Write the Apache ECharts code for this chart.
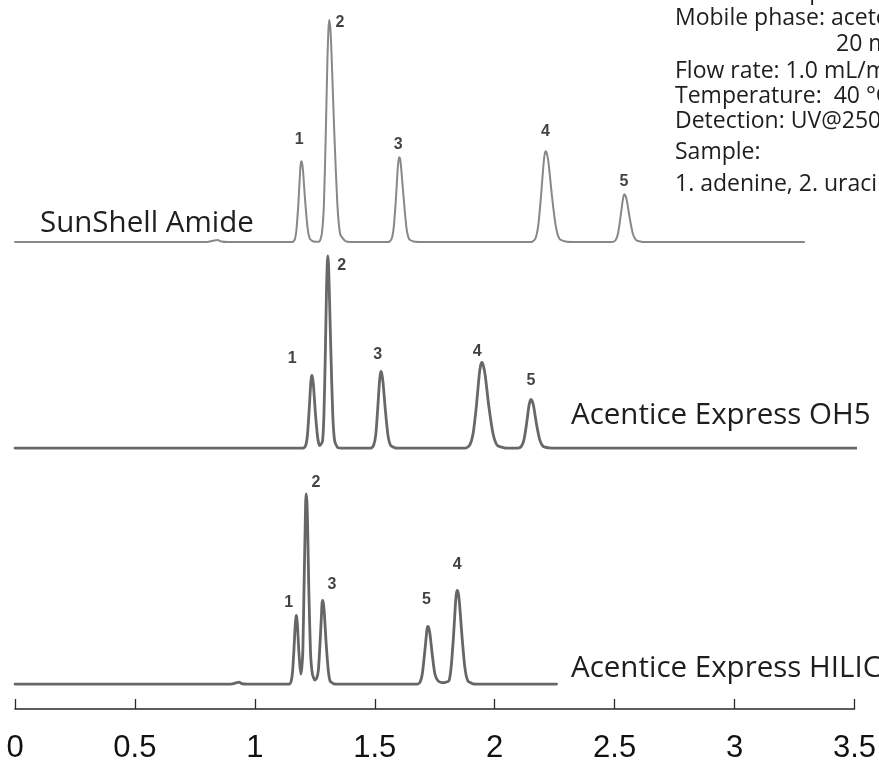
<!DOCTYPE html>
<html><head><meta charset="utf-8">
<script src="https://cdn.jsdelivr.net/npm/echarts@6.0.0/dist/echarts.min.js"></script>
<style>html,body{margin:0;padding:0;background:#fff}#c{width:879px;height:764px}</style>
</head><body><div id="c"></div>
<script>
// x-axis ticks (retention time, min)
const xTicks = [0, 0.5, 1, 1.5, 2, 2.5, 3, 3.5];

const traceNames = ['SunShell Amide', 'Acentice Express OH5', 'Acentice Express HILIC'];

// [time (min), detector signal]
const sunshellAmide = [
[0,0],[0.80,0],[0.83,1.5],[0.845,2],[0.86,0.5],[0.89,0],
[1.157,0],[1.167,2.8],[1.174,13.8],[1.182,40.5],[1.188,68],[1.191,77.8],[1.194,81],[1.198,77.8],[1.202,68],[1.210,40.5],[1.220,13.8],[1.230,2.8],[1.246,0.5],
[1.268,0.3],[1.279,7.8],[1.288,38],[1.296,111.5],[1.303,187],[1.307,214],[1.310,223],[1.315,214],[1.320,187],[1.331,111.5],[1.344,38],[1.356,7.8],[1.377,1],[1.40,0],
[1.558,0],[1.570,3],[1.579,14.5],[1.588,42.5],[1.595,71.4],[1.599,81.7],[1.602,85],[1.607,81.7],[1.611,71.4],[1.621,42.5],[1.632,14.5],[1.643,3],[1.662,0.5],[1.70,0],
[2.153,0],[2.169,3.2],[2.181,15.5],[2.193,45.5],[2.203,76.4],[2.208,87.5],[2.213,91],[2.219,87.5],[2.226,76.4],[2.239,45.5],[2.255,15.5],[2.270,3.2],[2.296,0.5],[2.33,0],
[2.490,0],[2.504,1.7],[2.514,8.2],[2.524,24],[2.533,40.3],[2.537,46],[2.541,48],[2.546,46],[2.552,40.3],[2.563,24],[2.576,8.2],[2.590,1.7],[2.612,0.3],[2.65,0],
[3.29,0]
];
const expressOH5 = [
[0,0],
[1.202,0],[1.212,2.6],[1.219,12.4],[1.226,36.5],[1.232,61.3],[1.235,70],[1.238,73],[1.241,70],[1.245,61.3],[1.252,36.5],[1.261,12.4],[1.266,5],
[1.271,2.5],[1.282,6.8],[1.288,32.8],[1.294,96.5],[1.299,162],[1.302,185.5],[1.304,193],[1.307,185.5],[1.310,162],[1.317,96.5],[1.325,32.8],[1.333,6.8],[1.346,0.5],[1.37,0],
[1.484,0],[1.495,2.7],[1.504,13],[1.512,38.5],[1.519,64.7],[1.523,74],[1.526,77],[1.530,74],[1.535,64.7],[1.544,38.5],[1.555,13],[1.566,2.7],[1.584,0.3],[1.62,0],
[1.879,0],[1.896,3],[1.910,14.6],[1.924,43],[1.935,72.2],[1.941,82.6],[1.946,86],[1.953,82.6],[1.961,72.2],[1.975,43],[1.993,14.6],[2.010,3],[2.040,0.3],[2.07,0],
[2.097,0],[2.111,1.7],[2.122,8.3],[2.133,24.5],[2.142,41.2],[2.147,47],[2.151,49],[2.157,47],[2.163,41.2],[2.174,24.5],[2.188,8.3],[2.202,1.7],[2.226,0.3],[2.26,0],
[3.54,0]
];
const expressHILIC = [
[0,0],[0.90,0],[0.925,1.5],[0.935,2],[0.945,0.5],[0.97,0],
[1.143,0],[1.151,2.4],[1.157,11.7],[1.163,34.5],[1.168,58],[1.171,66.3],[1.173,69],[1.175,66.3],[1.178,58],[1.183,34.5],[1.188,18],[1.192,10],
[1.196,17],[1.200,32.5],[1.205,95.5],[1.210,160],[1.212,183.5],[1.214,191],[1.217,183.5],[1.220,160],[1.225,95.5],[1.232,32.5],[1.240,10],[1.250,4],
[1.258,6],[1.265,14.3],[1.272,42],[1.278,70.6],[1.280,80.7],[1.283,84],[1.286,80.7],[1.290,70.6],[1.297,42],[1.306,14.3],[1.314,3],[1.33,0.3],[1.36,0],
[1.677,0],[1.689,2],[1.698,9.9],[1.707,29],[1.715,48.7],[1.718,55.7],[1.722,58],[1.726,55.7],[1.731,48.7],[1.740,29],[1.751,9.9],[1.765,3],[1.784,1.5],
[1.809,3.3],[1.818,16],[1.828,47],[1.836,79],[1.840,90.3],[1.844,94],[1.849,90.3],[1.854,79],[1.864,47],[1.876,16],[1.888,3.3],[1.91,0.3],[1.94,0],
[2.258,0]
];

// peak number annotations: [label, time, signal]
const sunshellLabels = [['1',1.185,103],['2',1.355,220],['3',1.598,98],['4',2.212,111],['5',2.539,61]];
const oh5Labels      = [['1',1.156,90],['2',1.362,183],['3',1.512,94],['4',1.927,97],['5',2.151,68]];
const hilicLabels    = [['1',1.141,82],['2',1.255,202],['3',1.321,100],['5',1.715,85],['4',1.844,120]];

const conditionLines = [
  'Acentice Express HILIC',
  'Mobile phase: acetonitrile/',
  '20 mM ammonium acetate',
  'Flow rate: 1.0 mL/min',
  'Temperature:  40 \u00B0C',
  'Detection: UV@250 nm',
  'Sample:',
  '1. adenine, 2. uracil, 3. adenosine'
];

// layout (vertical stacking of the traces, in signal units)
const baselines = [469, 262, 25];
const lineColors = ['#888888', '#686868', '#666666'];
const lineWidths = [2, 2.8, 2.8];

const traces = [sunshellAmide, expressOH5, expressHILIC];
const labelSets = [sunshellLabels, oh5Labels, hilicLabels];

const series = [];
traces.forEach((tr, i) => {
  series.push({
    name: traceNames[i], type: 'line', showSymbol: false, clip: false, silent: true,
    smooth: 0.2,
    data: tr.map(p => [p[0], p[1] + baselines[i]]),
    lineStyle: { color: lineColors[i], width: lineWidths[i], join: 'round', cap: 'round' },
    itemStyle: { color: lineColors[i] }
  });
  series.push({
    type: 'scatter', symbolSize: 0, clip: false, silent: true,
    data: labelSets[i].map(l => ({ name: l[0], value: [l[1], l[2] + baselines[i]] })),
    label: { show: true, position: 'inside', formatter: '{b}', color: '#111',
             fontFamily: 'Liberation Sans', fontWeight: 'bold', fontSize: 16 }
  });
});

const textFont = '"Open Sans", "DejaVu Sans", sans-serif';
const graphic = [
  { type: 'text', left: 40, top: 209, style: { text: traceNames[0], font: '29.5px ' + textFont, fill: '#1e1e1e' } },
  { type: 'text', left: 571, top: 401, style: { text: traceNames[1], font: '29.5px ' + textFont, fill: '#1e1e1e' } },
  { type: 'text', left: 571, top: 654, style: { text: traceNames[2], font: '29.5px ' + textFont, fill: '#1e1e1e' } }
];
const condTops = [-19, 7, 33, 60, 85, 110, 141, 173];
conditionLines.forEach((t, k) => {
  graphic.push({ type: 'text', x: (k === 2 ? 836 : (k === 0 ? 688 : 675)), y: condTops[k],
    style: { text: t, font: '23px ' + textFont, fill: '#1e1e1e' } });
});

const chart = echarts.init(document.getElementById('c'), null, { renderer: 'canvas' });
chart.setOption({
  animation: false,
  backgroundColor: '#ffffff',
  grid: { left: 15, right: 21, top: 0, bottom: 52 },
  xAxis: {
    type: 'value', min: xTicks[0], max: xTicks[xTicks.length - 1], interval: xTicks[1] - xTicks[0],
    axisLine: { show: true, lineStyle: { color: '#2a2a2a', width: 1.6 } },
    axisTick: { show: true, inside: true, length: 10, lineStyle: { color: '#2a2a2a', width: 1.3 } },
    axisLabel: { fontFamily: '"Liberation Sans Narrow", "Liberation Sans", sans-serif', fontSize: 31, color: '#111', margin: 24 },
    splitLine: { show: false }
  },
  yAxis: { type: 'value', min: 0, max: 712, show: false },
  graphic: graphic,
  series: series
});
</script>
</body></html>
